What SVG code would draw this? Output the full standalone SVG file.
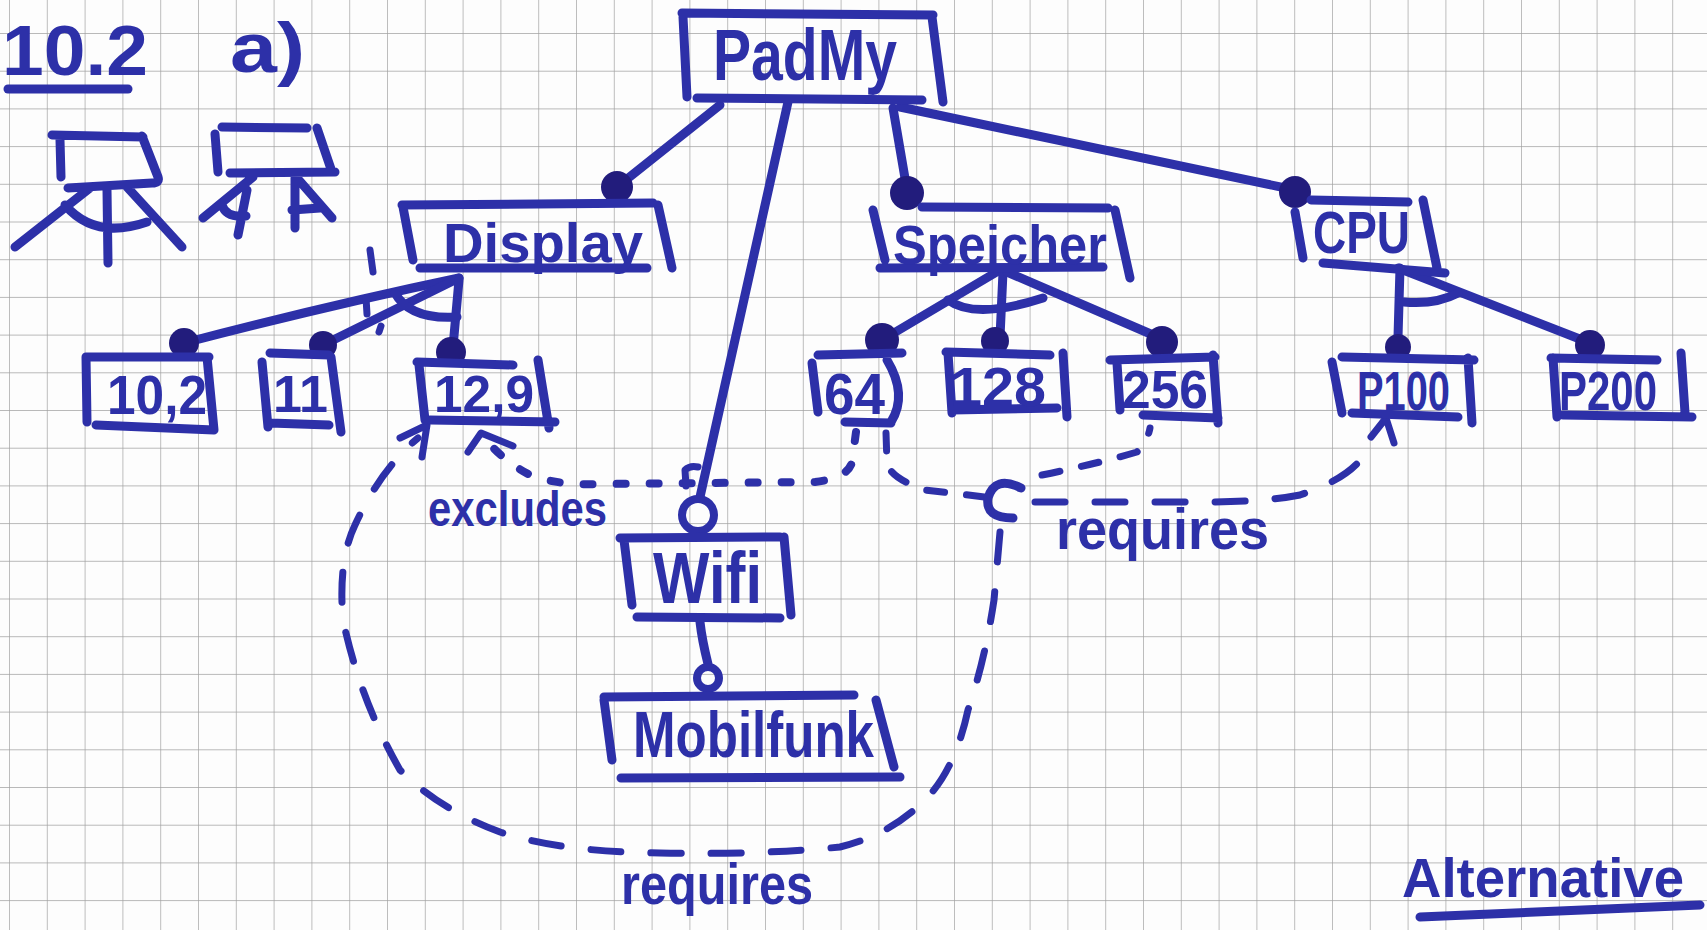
<svg xmlns="http://www.w3.org/2000/svg" width="1707" height="930" viewBox="0 0 1707 930">
<defs>
<pattern id="grid" x="9" y="33" width="37.8" height="37.7" patternUnits="userSpaceOnUse">
<path d="M0,0 H37.8 M0,0 V37.7" fill="none" stroke="#a2a2a2" stroke-width="1.4"/>
</pattern>
<style>
.ink{fill:none;stroke:#2d30a8;stroke-width:9;stroke-linecap:round;stroke-linejoin:round}
.thin{fill:none;stroke:#2d30a8;stroke-width:7;stroke-linecap:round;stroke-linejoin:round}
.t{font-family:"Liberation Sans",Arial,sans-serif;font-weight:bold;fill:#2d30a8}
.dot{fill:#221c7c}
.ring{fill:none;stroke:#2d30a8;stroke-width:8}
.dash{fill:none;stroke:#2d30a8;stroke-width:7;stroke-linecap:round;stroke-dasharray:30 30}
.dots{fill:none;stroke:#2d30a8;stroke-width:8;stroke-linecap:round;stroke-dasharray:9 24}
.mdash{fill:none;stroke:#2d30a8;stroke-width:7;stroke-linecap:round;stroke-dasharray:18 22}
</style>
</defs>
<rect width="1707" height="930" fill="#fdfdfd"/>
<rect width="1707" height="930" fill="url(#grid)"/>

<g id="legend">
<text class="t" x="2" y="75" font-size="70" textLength="146" lengthAdjust="spacingAndGlyphs">10.2</text>
<path class="ink" d="M8,89 L128,89"/>
<text class="t" x="230" y="72" font-size="70" textLength="75" lengthAdjust="spacingAndGlyphs">a)</text>
<path class="ink" d="M52,135 L143,137 M60,140 L61,177 M142,136 L158,177 Q160,183 152,183 L68,188 M90,188 L15,247 M127,187 L182,247 M107,190 L108,263 M65,205 Q95,240 147,222"/>
<path class="ink" d="M222,127 L307,128 M215,134 L218,172 M317,128 L332,172 M230,173 L335,172 M253,177 L203,218 M247,190 L238,235 M222,205 Q226,218 246,216 M295,178 L295,228 M297,178 L332,218 M292,210 L320,208"/>
</g>

<g id="connectors">
<path class="ink" d="M720,105 L617,187"/>
<path class="ink" d="M788,102 L700,497"/>
<path class="ink" d="M893,108 L907,190"/>
<path class="ink" d="M900,107 L1295,190"/>
<path class="ink" d="M459,278 Q330,305 184,343"/>
<path class="ink" d="M459,278 L323,345"/>
<path class="ink" d="M459,280 L453,347"/>
<path class="ink" d="M395,293 Q410,320 457,317"/>
<path class="ink" d="M1000,270 L882,340"/>
<path class="ink" d="M1003,272 L1000,337"/>
<path class="ink" d="M1007,272 L1160,338"/>
<path class="ink" d="M948,300 Q975,320 1043,298"/>
<path class="ink" d="M1400,268 L1398,337"/>
<path class="ink" d="M1398,268 L1590,343"/>
<path class="ink" d="M1404,302 Q1435,305 1458,293"/>
<path class="ink" d="M700,622 Q702,640 708,664"/>
<circle class="dot" cx="617" cy="187" r="16"/>
<circle class="ring" cx="698" cy="515" r="16"/>
<circle class="dot" cx="907" cy="193" r="17"/>
<circle class="dot" cx="1295" cy="192" r="16"/>
<circle class="dot" cx="184" cy="343" r="15"/>
<circle class="dot" cx="323" cy="345" r="14"/>
<circle class="dot" cx="451" cy="352" r="15"/>
<circle class="dot" cx="882" cy="340" r="17"/>
<circle class="dot" cx="995" cy="341" r="14"/>
<circle class="dot" cx="1162" cy="342" r="16"/>
<circle class="dot" cx="1398" cy="347" r="13"/>
<circle class="dot" cx="1590" cy="345" r="15"/>
<circle class="ring" cx="708" cy="678" r="11" stroke-width="7"/>
<path class="dots" d="M856,432 L852,462 Q848,478 815,482 L600,484 Q560,486 530,475 Q505,462 488,442"/>
<path class="thin" d="M468,452 L481,433 L513,446"/>
<path class="thin" d="M686,486 L685,470 Q690,465 698,467"/>
<path class="mdash" d="M886,433 L887,463 Q890,478 925,490 L985,497"/>
<path class="ink" d="M1021,488 Q995,475 988,498 Q985,518 1013,518"/>
<path class="mdash" d="M1042,475 Q1100,463 1137,452 Q1148,440 1150,428"/>
<path class="dash" d="M1035,502 L1180,502 Q1260,503 1300,495 Q1345,480 1362,458"/>
<path class="thin" d="M1371,437 L1386,418 L1394,443"/>
<path class="dash" d="M1000,532 L994,600 Q985,660 968,710 Q955,770 925,800 Q890,835 840,847 Q760,855 660,853 Q560,852 500,832 Q440,810 400,770 Q360,700 343,620 Q338,560 355,525 Q380,470 418,438"/>
<path class="thin" d="M400,438 L427,425 L422,457"/>
<path class="thin" d="M370,250 L373,272 M366,298 L367,314 M381,326 L379,332"/>
<text class="t" x="428" y="526" font-size="50" textLength="179" lengthAdjust="spacingAndGlyphs">excludes</text>
<text class="t" x="1056" y="549" font-size="58" textLength="213" lengthAdjust="spacingAndGlyphs">requires</text>
<text class="t" x="621" y="904" font-size="58" textLength="192" lengthAdjust="spacingAndGlyphs">requires</text>
</g>

<g id="padmy">
<path class="ink" d="M683,17 L687,97 M682,13 L933,15 M932,17 L943,102 M697,98 L922,100"/>
<text class="t" x="713" y="80" font-size="72" textLength="184" lengthAdjust="spacingAndGlyphs">PadMy</text>
</g>
<g id="display">
<path class="ink" d="M402,205 L653,203 M403,207 L413,260 M658,205 L672,268 M420,268 L647,268"/>
<text class="t" x="443" y="262" font-size="56" textLength="200" lengthAdjust="spacingAndGlyphs">Display</text>
</g>
<g id="speicher">
<path class="ink" d="M922,207 L1108,208 M873,210 L885,260 M1115,210 L1130,278 M880,268 L1103,267"/>
<text class="t" x="893" y="264" font-size="56" textLength="214" lengthAdjust="spacingAndGlyphs">Speicher</text>
</g>
<g id="cpu">
<path class="ink" d="M1311,200 L1408,202 M1295,212 L1303,258 M1423,200 L1437,268 M1323,263 L1445,273"/>
<text class="t" x="1313" y="253" font-size="60" textLength="97" lengthAdjust="spacingAndGlyphs">CPU</text>
</g>
<g id="d102">
<path class="ink" d="M86,357 L209,357 M86,357 L87,422 M207,357 L214,430 M96,425 L214,430"/>
<text class="t" x="107" y="414" font-size="56" textLength="100" lengthAdjust="spacingAndGlyphs">10,2</text>
</g>
<g id="d11">
<path class="ink" d="M270,353 L329,355 M262,362 L268,427 M331,357 L341,432 M270,423 L329,425"/>
<text class="t" x="273" y="412" font-size="52" textLength="55" lengthAdjust="spacingAndGlyphs">11</text>
</g>
<g id="d129">
<path class="ink" d="M417,362 L513,365 M419,365 L425,420 M538,360 L549,428 M430,420 L555,422"/>
<text class="t" x="434" y="412" font-size="52" textLength="100" lengthAdjust="spacingAndGlyphs">12,9</text>
</g>
<g id="s64">
<path class="ink" d="M818,355 L902,353 M812,363 L818,412 M887,360 Q908,395 891,422 M845,422 L891,423"/>
<text class="t" x="824" y="414" font-size="58" textLength="61" lengthAdjust="spacingAndGlyphs">64</text>
</g>
<g id="s128">
<path class="ink" d="M946,352 L1050,355 M948,353 L952,413 M1063,353 L1067,417 M952,410 L1057,408"/>
<text class="t" x="950" y="406" font-size="56" textLength="96" lengthAdjust="spacingAndGlyphs">128</text>
</g>
<g id="s256">
<path class="ink" d="M1110,360 L1215,357 M1117,363 L1120,410 M1213,355 L1218,423 M1143,415 L1218,418"/>
<text class="t" x="1122" y="408" font-size="54" textLength="86" lengthAdjust="spacingAndGlyphs">256</text>
</g>
<g id="p100">
<path class="ink" d="M1342,357 L1474,360 M1332,362 L1342,413 M1468,358 L1472,423 M1352,413 L1458,417"/>
<text class="t" x="1357" y="410" font-size="56" textLength="93" lengthAdjust="spacingAndGlyphs">P100</text>
</g>
<g id="p200">
<path class="ink" d="M1551,358 L1657,360 M1553,358 L1557,417 M1681,353 L1685,413 M1563,415 L1692,417"/>
<text class="t" x="1559" y="410" font-size="56" textLength="98" lengthAdjust="spacingAndGlyphs">P200</text>
</g>
<g id="wifi">
<path class="ink" d="M620,538 L780,537 M624,540 L632,605 M784,537 L791,615 M637,617 L780,618"/>
<text class="t" x="653" y="603" font-size="72" textLength="109" lengthAdjust="spacingAndGlyphs">Wifi</text>
</g>
<g id="mobilfunk">
<path class="ink" d="M604,697 L854,695 M604,700 L612,760 M876,700 L894,767 M621,778 L900,777"/>
<text class="t" x="633" y="757" font-size="64" textLength="241" lengthAdjust="spacingAndGlyphs">Mobilfunk</text>
</g>
<g id="alternative">
<text class="t" x="1402" y="897" font-size="56" textLength="282" lengthAdjust="spacingAndGlyphs">Alternative</text>
<path class="ink" d="M1420,917 L1700,905"/>
</g>
</svg>
